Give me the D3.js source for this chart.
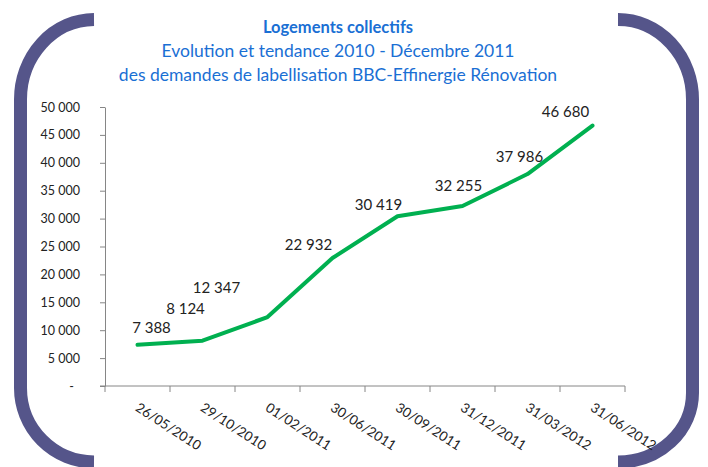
<!DOCTYPE html>
<html>
<head>
<meta charset="utf-8">
<script src="https://cdn.jsdelivr.net/npm/d3@7"></script>
<style>
  body { margin: 0; background: #fff; }
  text { font-family: Lato, "Open Sans", sans-serif; }
</style>
</head>
<body>
<div class="chart"></div>
<script>
// data
const dates = ["26/05/2010", "29/10/2010", "01/02/2011", "30/06/2011", "30/09/2011", "31/12/2011", "31/03/2012", "31/06/2012"];
const values = [7388, 8124, 12347, 22932, 30419, 32255, 37986, 46680];
const yTickValues = [0, 5000, 10000, 15000, 20000, 25000, 30000, 35000, 40000, 45000, 50000];
const titleLines = ["Logements collectifs", "Evolution et tendance 2010 - Décembre 2011", "des demandes de labellisation BBC-Effinergie Rénovation"];

const width = 708, height = 467;
const plot = { left: 105, right: 625, top: 107, bottom: 386 };

// labels were dragged by hand in the original, so each has its own offset
const labelOffsets = [[14, -12], [-17, -27], [-51, -24], [-24, -8], [-19, -6], [-4, -15], [-8, -12], [-27, -9]];

const fr = d3.formatLocale({ decimal: ",", thousands: "\u00a0", grouping: [3], currency: ["", " €"] });
const fmt = v => v === 0 ? "-" : fr.format(",")(v);

var svg = d3.select(".chart").append("svg")
    .attr("width", width)
    .attr("height", height);

svg.append("rect").attr("width", width).attr("height", height).attr("fill", "#fff");

// brackets on both sides
const frameColor = "#55558a";
const brackets = [
    "M94,19.5 A74,80 0 0 0 20.5,100 V388 A74,74 0 0 0 94,462",
    "M618,19.5 A74.5,80 0 0 1 692.5,100 V393 A74.5,69 0 0 1 618,462"
];
svg.selectAll(".bracket")
    .data(brackets)
    .join("path")
    .attr("class", "bracket")
    .attr("d", d => d)
    .attr("fill", "none")
    .attr("stroke", frameColor)
    .attr("stroke-width", 13);

// title
svg.selectAll(".title")
    .data(titleLines)
    .join("text")
    .attr("class", "title")
    .attr("x", 338)
    .attr("y", (d, i) => 33 + i * 24)
    .attr("text-anchor", "middle")
    .attr("fill", "#1a6fd4")
    .attr("font-size", (d, i) => i === 0 ? 16.5 : 17.5)
    .attr("font-weight", (d, i) => i === 0 ? "bold" : "normal")
    .text(d => d);

var x = d3.scaleBand().domain(dates).range([plot.left, plot.right]);
var y = d3.scaleLinear().domain([0, 50000]).range([plot.bottom, plot.top]);

const axisColor = "#868686";

// y axis
var gy = svg.append("g")
    .attr("transform", `translate(${plot.left},0)`)
    .call(d3.axisLeft(y).tickValues(yTickValues).tickSize(5).tickSizeOuter(0).tickPadding(20).tickFormat(fmt));
gy.select(".domain").attr("stroke", axisColor);
gy.selectAll(".tick line").attr("stroke", axisColor);
gy.selectAll(".tick text")
    .attr("font-family", "Lato, sans-serif")
    .attr("font-size", 12.5)
    .attr("fill", "#222")
    .attr("dx", d => d === 0 ? -6 : 0);

// x axis: line + ticks at category boundaries
svg.append("line")
    .attr("x1", plot.left - 5).attr("x2", plot.right)
    .attr("y1", plot.bottom).attr("y2", plot.bottom)
    .attr("stroke", axisColor);

var bounds = d3.range(dates.length + 1).map(i => x.range()[0] + i * x.step());
svg.selectAll(".xtick")
    .data(bounds)
    .join("line")
    .attr("class", "xtick")
    .attr("x1", d => d).attr("x2", d => d)
    .attr("y1", plot.bottom).attr("y2", plot.bottom + 6)
    .attr("stroke", axisColor);

svg.selectAll(".xlabel")
    .data(dates)
    .join("text")
    .attr("class", "xlabel")
    .attr("transform", d => `translate(${x(d) + x.bandwidth() / 2 - 3},${plot.bottom + 24}) rotate(33)`)
    .attr("font-size", 13.5)
    .attr("fill", "#222")
    .text(d => d);

// line
var line = d3.line()
    .x((d, i) => x(dates[i]) + x.bandwidth() / 2)
    .y(d => y(d));

svg.append("path")
    .datum(values)
    .attr("d", line)
    .attr("fill", "none")
    .attr("stroke", "#00b050")
    .attr("stroke-width", 4)
    .attr("stroke-linecap", "round")
    .attr("stroke-linejoin", "round");

// data labels
svg.selectAll(".vlabel")
    .data(values)
    .join("text")
    .attr("class", "vlabel")
    .attr("x", (d, i) => x(dates[i]) + x.bandwidth() / 2 + labelOffsets[i][0])
    .attr("y", (d, i) => y(d) + labelOffsets[i][1])
    .attr("text-anchor", "middle")
    .attr("font-size", 15)
    .attr("fill", "#222")
    .text(d => fmt(d));
</script>
</body>
</html>
